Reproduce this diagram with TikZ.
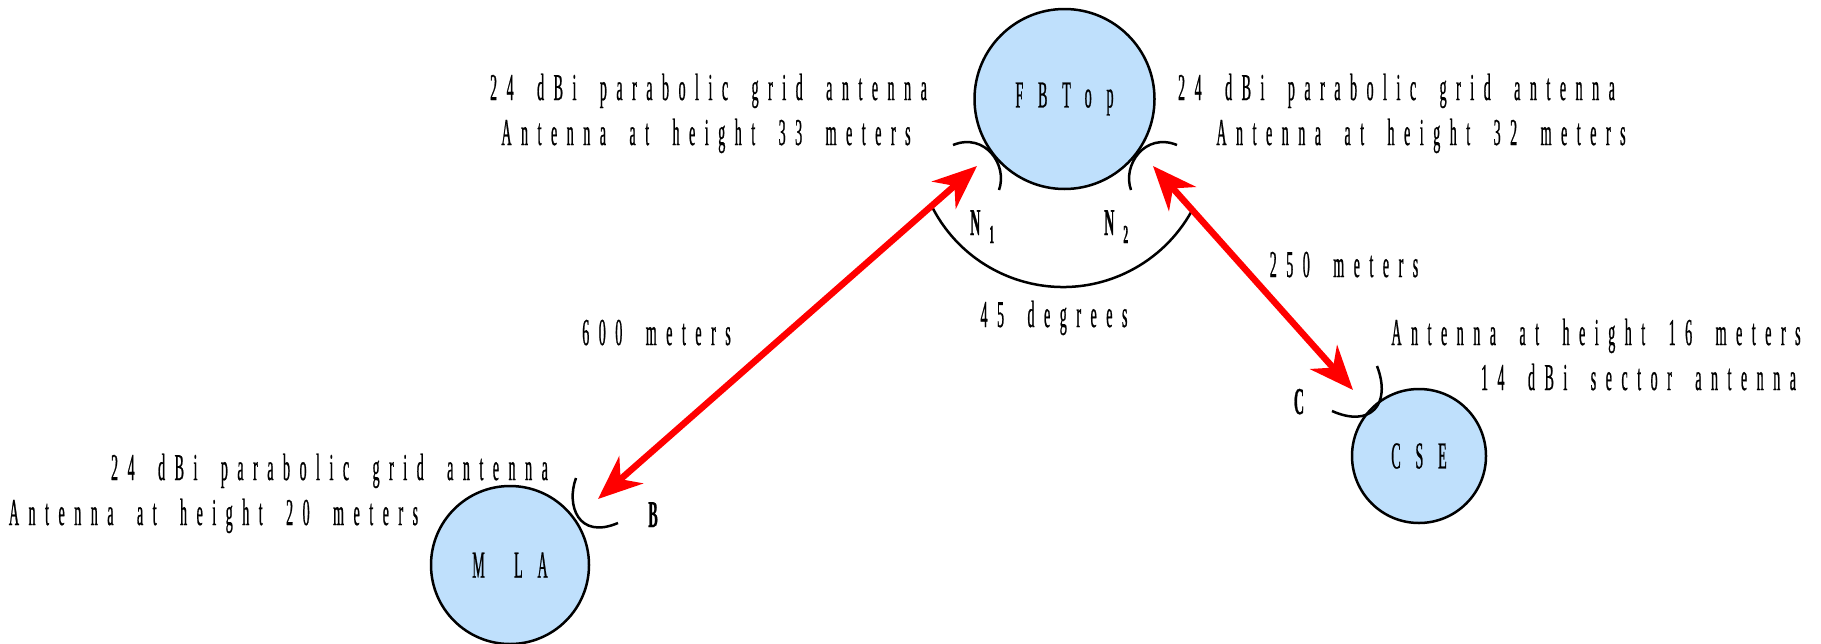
\documentclass[tikz,border=0pt]{standalone}
\usepackage{fontspec}
\usetikzlibrary{arrows.meta}
\newfontfamily\lab[FakeStretch=0.37,LetterSpace=25,WordSpace=1.8,FakeBold=0.6]{Liberation Serif}
\newfontfamily\labwide[FakeStretch=0.37,LetterSpace=39,WordSpace=1.6,FakeBold=0.6]{Liberation Serif}
\definecolor{nodeblue}{RGB}{191,224,252}
\definecolor{linkred}{RGB}{255,0,0}
\begin{document}
\begin{tikzpicture}[x=1pt,y=1pt,
  every node/.style={font=\lab\fontsize{38}{40}\selectfont, inner sep=0pt},
  station/.style={circle, draw=black, line width=2.5pt, fill=nodeblue,
    font=\labwide\fontsize{38}{40}\selectfont},
  txt/.style={anchor=base},
  tag/.style={anchor=base, font=\lab\bfseries\fontsize{38}{40}\selectfont},
  antenna/.style={draw=black, line width=2.5pt},
  link/.style={draw=linkred, line width=6.5pt,
    {Stealth[length=44pt,width=36pt,inset=14pt]}-{Stealth[length=44pt,width=36pt,inset=14pt]}}]
\useasboundingbox (0,0) rectangle (1821,-643);

% stations
\node[station, minimum size=180pt] (FBTop) at (1064.5,-99) {FBTop};
\node[station, minimum size=158pt] (MLA) at (510,-565) {M LA};
\node[station, minimum size=134pt] (CSE) at (1419,-456) {CSE};

% antennas
\draw[antenna] (953,-145) .. controls (985,-132) and (1008,-165) .. (999,-190);
\draw[antenna] (1177,-145) .. controls (1145,-132) and (1122,-165) .. (1131,-190);
\draw[antenna] (576,-478) .. controls (566,-505) and (578,-540) .. (618,-523);
\draw[antenna] (1377,-366) .. controls (1392,-405) and (1370,-428) .. (1332,-411);

% angle arc
\draw[antenna] (1063,-140) ++(-153:147) arc[start angle=-153, end angle=-29, radius=147];

% link end points
\coordinate (mlaB) at (598,-499);
\coordinate (topA) at (977,-166);
\coordinate (topB) at (1153,-166);
\coordinate (cseC) at (1353,-390);
\draw[link] (mlaB) -- (topA);
\draw[link] (topB) -- (cseC);

% texts
\node[txt] (t1) at (708.5,-100) {24 dBi parabolic grid antenna};
\node[txt] (t2) at (706,-145) {Antenna at height 33 meters};
\node[txt] (t3) at (1396.5,-100) {24 dBi parabolic grid antenna};
\node[txt] (t4) at (1421,-145) {Antenna at height 32 meters};
\node[txt] (t5) at (1596,-345) {Antenna at height 16 meters};
\node[txt] (t6) at (1638.5,-390) {14 dBi sector antenna};
\node[txt] (t7) at (329.5,-480) {24 dBi parabolic grid antenna};
\node[txt] (t8) at (213.5,-525) {Antenna at height 20 meters};
\node[txt] (d1) at (656.5,-345) {600 meters};
\node[txt] (d2) at (1344,-277) {250 meters};
\node[txt] (d3) at (1054,-327) {45 degrees};
\node[tag, anchor=base west] (n1) at (970,-235) {N\hspace{9pt}\raisebox{-8pt}{\fontsize{26}{28}\selectfont 1}};
\node[tag, anchor=base west] (n2) at (1104,-235) {N\hspace{9pt}\raisebox{-8pt}{\fontsize{26}{28}\selectfont 2}};
\node[tag] (lb) at (653,-527) {B};
\node[tag] (lc) at (1299,-414) {C};
\end{tikzpicture}
\end{document}
